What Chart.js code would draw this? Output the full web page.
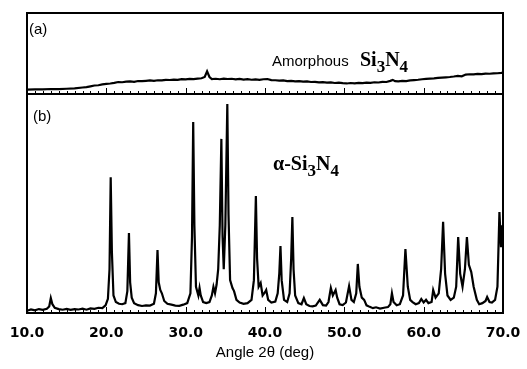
<!DOCTYPE html>
<html>
<head>
<meta charset="utf-8">
<script src="https://cdn.jsdelivr.net/npm/chart.js@4/dist/chart.umd.min.js"></script>
<style>
  html, body { margin: 0; padding: 0; background: #fff; }
  #wrap { position: relative; width: 527px; height: 369px; }
  canvas { position: absolute; left: 0; }
  #topChart { top: 0; }
  #xrdChart { top: 94px; }
</style>
</head>
<body>
<div id="wrap">
  <canvas id="xrdChart" width="527" height="275"></canvas>
  <canvas id="topChart" width="527" height="100"></canvas>
</div>
<script>
// (a) amorphous Si3N4, intensity in % of panel height
const amorphAngles = [10.0, 11.0, 12.0, 13.0, 14.0, 15.0, 16.0, 17.0, 17.5, 18.0, 18.5, 19.0, 19.5, 20.0, 20.5, 21.0, 21.5, 22.0, 22.5, 23.0, 23.5, 24.0, 24.5, 25.0, 25.5, 26.0, 26.5, 27.0, 27.5, 28.0, 28.5, 29.0, 29.5, 30.0, 30.5, 31.0, 31.5, 32.0, 32.4, 32.7, 33.0, 33.3, 33.8, 34.3, 34.8, 35.3, 35.8, 36.3, 36.8, 37.3, 37.8, 38.3, 38.8, 39.3, 39.8, 40.3, 40.8, 41.3, 41.8, 42.3, 42.8, 43.3, 43.8, 44.3, 44.8, 45.3, 45.8, 46.3, 46.8, 47.3, 47.8, 48.3, 48.8, 49.3, 49.8, 50.3, 50.8, 51.3, 51.8, 52.3, 52.8, 53.3, 53.8, 54.3, 54.8, 55.3, 55.8, 56.1, 56.4, 56.8, 57.3, 57.8, 58.3, 58.8, 59.3, 59.8, 60.3, 60.8, 61.3, 61.8, 62.3, 62.8, 63.3, 63.8, 64.3, 64.8, 65.3, 65.8, 66.3, 66.8, 67.3, 67.8, 68.3, 68.8, 69.3, 69.8, 70.0];
const amorphCounts = [5.5, 5.8, 5.6, 6.2, 6.0, 6.5, 7.0, 8.0, 8.5, 9.5, 10.5, 10.8, 11.8, 12.5, 13.0, 13.8, 14.8, 14.5, 15.2, 15.6, 15.0, 16.0, 15.8, 16.3, 16.8, 16.2, 17.0, 16.8, 17.5, 17.3, 17.8, 17.4, 18.3, 18.0, 18.6, 18.4, 19.0, 19.4, 21.0, 28.0, 21.0, 18.4, 18.8, 18.2, 19.0, 18.5, 18.8, 18.0, 18.6, 17.8, 18.3, 17.6, 18.0, 17.4, 18.2, 18.5, 17.2, 17.0, 16.6, 16.8, 16.0, 16.3, 15.6, 15.9, 15.2, 15.5, 14.8, 15.0, 14.4, 14.6, 14.0, 14.3, 13.6, 14.0, 13.4, 13.0, 13.6, 13.2, 13.8, 13.4, 14.0, 13.8, 14.5, 14.2, 15.0, 14.8, 16.2, 17.4, 15.8, 15.6, 16.2, 16.0, 16.8, 17.2, 17.6, 18.2, 18.6, 19.0, 19.2, 19.8, 20.2, 20.6, 21.0, 21.6, 22.4, 21.8, 24.0, 24.4, 24.2, 24.8, 24.6, 25.2, 25.0, 25.4, 25.6, 26.0, 26.4];

// (b) alpha-Si3N4, intensity in % of panel height
const alphaAngles = [10.0, 10.5, 11.0, 11.5, 12.0, 12.5, 12.8, 13.0, 13.2, 13.5, 14.0, 14.5, 15.0, 15.5, 16.0, 16.5, 17.0, 17.5, 18.0, 18.5, 19.0, 19.5, 19.9, 20.2, 20.4, 20.55, 20.7, 20.9, 21.2, 21.6, 22.0, 22.4, 22.65, 22.85, 23.0, 23.2, 23.5, 24.0, 24.5, 25.0, 25.5, 26.0, 26.25, 26.45, 26.6, 26.8, 27.0, 27.3, 27.7, 28.2, 28.7, 29.2, 29.7, 30.2, 30.6, 30.8, 30.95, 31.1, 31.3, 31.6, 31.75, 31.9, 32.2, 32.6, 33.0, 33.3, 33.5, 33.7, 33.9, 34.1, 34.3, 34.5, 34.65, 34.8, 35.0, 35.25, 35.4, 35.6, 35.9, 36.1, 36.4, 36.8, 37.3, 37.8, 38.3, 38.6, 38.85, 39.0, 39.2, 39.45, 39.7, 40.0, 40.15, 40.4, 40.8, 41.3, 41.6, 41.8, 41.95, 42.1, 42.4, 42.8, 43.1, 43.3, 43.45, 43.6, 43.8, 44.2, 44.6, 44.9, 45.2, 45.6, 46.0, 46.4, 46.9, 47.3, 47.7, 48.0, 48.3, 48.55, 48.9, 49.1, 49.4, 49.8, 50.2, 50.6, 50.9, 51.2, 51.5, 51.7, 51.9, 52.2, 52.5, 52.8, 53.2, 53.6, 54.0, 54.5, 55.0, 55.5, 55.8, 56.0, 56.2, 56.6, 57.0, 57.4, 57.7, 58.0, 58.3, 58.6, 59.0, 59.4, 59.7, 60.0, 60.3, 60.6, 61.0, 61.2, 61.5, 61.9, 62.2, 62.45, 62.7, 63.0, 63.4, 63.8, 64.1, 64.35, 64.6, 64.9, 65.2, 65.45, 65.7, 66.0, 66.3, 66.7, 67.0, 67.4, 67.8, 68.0, 68.3, 68.6, 69.0, 69.3, 69.55, 69.75, 69.9, 70.0];
const alphaCounts = [1.0, 1.6, 1.2, 1.8, 1.4, 1.9, 3.0, 6.8, 4.0, 2.4, 1.8, 1.5, 1.9, 1.4, 1.8, 1.6, 2.0, 1.5, 2.1, 1.9, 2.4, 2.2, 3.5, 6.5, 20, 62, 28, 8, 5.0, 4.2, 4.0, 4.5, 10, 36.5, 14, 7, 4.5, 3.6, 3.2, 3.5, 3.4, 4.2, 9, 28.8, 14, 10.5, 9, 5.5, 4.2, 3.8, 3.4, 3.3, 3.8, 4.5, 9, 35, 87.2, 40, 12, 8, 11.4, 8, 5, 4.5, 5, 8, 12, 9, 13, 20, 40, 79.5, 35, 20, 40, 95.4, 45, 15, 11.4, 10, 6, 4.8, 4.2, 4.5, 6, 15, 53.4, 25, 12, 13.7, 8, 9.5, 10.5, 6, 4.8, 5.2, 9, 18, 30.6, 15, 6, 5, 9, 25, 43.8, 20, 8, 4.5, 4, 6.8, 4, 3.2, 3.0, 3.4, 6, 3.6, 3.4, 5, 11.4, 8, 10.5, 7, 4, 3.6, 4.8, 12.3, 6, 5, 9, 22.4, 12, 7, 6, 3.5, 2.8, 2.2, 2.6, 2.0, 2.4, 2.7, 4, 9, 5, 3.5, 4, 8, 29.2, 12, 6, 5, 4, 4.5, 6.4, 4.8, 6, 4.5, 5, 10.5, 7, 9, 20, 41.6, 18, 8, 6, 7, 12, 34.7, 18, 12, 20, 34.7, 22, 18.7, 12, 6, 4, 4.5, 5.5, 7.3, 5, 4.8, 6, 12, 46.1, 30, 40, 35];

const xTickValues = [10, 20, 30, 40, 50, 60, 70];
const xTickLabels = ['10.0', '20.0', '30.0', '40.0', '50.0', '60.0', '70.0'];

function toPoints(xs, ys) {
  return xs.map((x, i) => ({ x: x, y: ys[i] }));
}

// frame, inward ticks and text notes
const framePlugin = {
  id: 'frame',
  afterDraw(chart, args, opts) {
    const { ctx, chartArea: a, scales: { x } } = chart;
    ctx.save();
    ctx.strokeStyle = '#000';
    ctx.lineWidth = 1;
    for (let v = 10; v <= 70; v++) {
      const px = Math.round(x.getPixelForValue(v)) + 0.5;
      const len = v % 10 === 0 ? 6 : 3;
      ctx.beginPath();
      ctx.moveTo(px, a.bottom);
      ctx.lineTo(px, a.bottom - len);
      ctx.stroke();
    }
    ctx.lineWidth = 2;
    ctx.strokeRect(a.left, a.top, a.right - a.left, a.bottom - a.top);
    ctx.fillStyle = '#000';
    ctx.textBaseline = 'alphabetic';
    (opts.notes || []).forEach(n => {
      let cx = n.x;
      n.runs.forEach(r => {
        ctx.font = r[2] || n.font;
        ctx.fillText(r[0], cx, n.y + r[1]);
        cx += ctx.measureText(r[0]).width;
      });
    });
    ctx.restore();
  }
};

const serifBold = 'bold 20px "Liberation Serif"';
const serifSub = 'bold 17px "Liberation Serif"';
const plain = '15px "Liberation Sans"';

const topChart = new Chart(document.getElementById('topChart'), {
  type: 'line',
  data: {
    datasets: [{ data: toPoints(amorphAngles, amorphCounts), borderColor: '#000', borderWidth: 2.2, pointRadius: 0, tension: 0 }]
  },
  options: {
    animation: false,
    responsive: false,
    devicePixelRatio: 1,
    layout: { padding: { left: 27, right: 24, top: 13, bottom: 6 } },
    plugins: {
      legend: { display: false },
      tooltip: { enabled: false },
      frame: {
        notes: [
          { x: 29, y: 34, font: plain, runs: [['(a)', 0]] },
          { x: 272, y: 66, font: plain, runs: [['Amorphous', 0]] },
          { x: 360, y: 66, font: serifBold, runs: [['Si', 0], ['3', 6, serifSub], ['N', 0], ['4', 6, serifSub]] }
        ]
      }
    },
    scales: {
      x: { type: 'linear', min: 10, max: 70, display: false },
      y: { min: 0, max: 100, display: false }
    }
  },
  plugins: [framePlugin]
});

const xrdChart = new Chart(document.getElementById('xrdChart'), {
  type: 'line',
  data: {
    datasets: [{ data: toPoints(alphaAngles, alphaCounts), borderColor: '#000', borderWidth: 2.2, pointRadius: 0, tension: 0 }]
  },
  options: {
    animation: false,
    responsive: false,
    devicePixelRatio: 1,
    layout: { padding: { left: 27, right: 24, top: 0, bottom: 1 } },
    plugins: {
      legend: { display: false },
      tooltip: { enabled: false },
      frame: {
        notes: [
          { x: 33, y: 27, font: plain, runs: [['(b)', 0]] },
          { x: 273, y: 76, font: serifBold, runs: [['\u03B1-Si', 0], ['3', 6, serifSub], ['N', 0], ['4', 6, serifSub]] }
        ]
      }
    },
    scales: {
      x: {
        type: 'linear', min: 10, max: 70,
        afterBuildTicks: scale => { scale.ticks = xTickValues.map(v => ({ value: v })); },
        afterFit: scale => { scale.height = 55; },
        grid: { display: false, drawTicks: true, tickLength: 9 },
        border: { display: false },
        ticks: {
          color: '#000', padding: 3, maxRotation: 0,
          font: { family: 'DejaVu Sans', weight: 'bold', size: 14 },
          callback: (val, i) => xTickLabels[i]
        },
        title: {
          display: true, text: 'Angle 2\u03B8 (deg)', color: '#000',
          font: { family: 'Liberation Sans', size: 15 },
          padding: { top: 0, bottom: 6 }
        }
      },
      y: { min: 0, max: 100, display: false }
    }
  },
  plugins: [framePlugin]
});
</script>
</body>
</html>
